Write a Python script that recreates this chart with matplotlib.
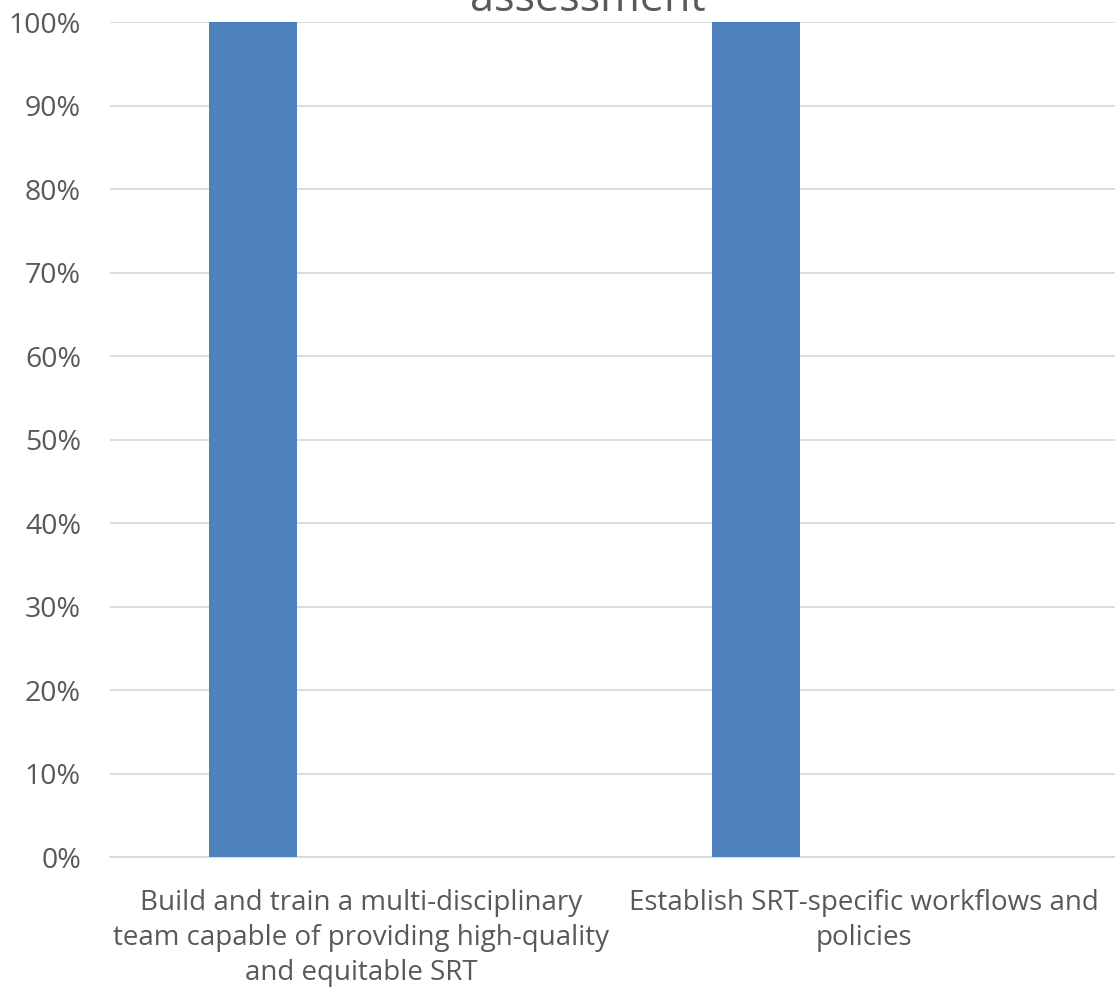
import matplotlib
matplotlib.use("Agg")
import matplotlib.pyplot as plt
from matplotlib.ticker import PercentFormatter

categories = ["Build and train a multi-disciplinary\nteam capable of providing high-quality\nand equitable SRT",
              "Establish SRT-specific workflows and\npolicies"]
values = [1.0, 1.0]
yticks = [0, 0.1, 0.2, 0.3, 0.4, 0.5, 0.6, 0.7, 0.8, 0.9, 1.0]

text_col = "#595959"
plt.rcParams['font.family'] = ['Open Sans', 'DejaVu Sans']

fig = plt.figure(figsize=(11.15, 9.91), dpi=100)
ax = fig.add_axes([0.0987, 0.1352, 0.9013, 0.8426])

x = list(range(len(categories)))
ax.bar([i - 0.215 for i in x], values, width=0.175, color="#4F81BD", zorder=3)

ax.set_xlim(-0.5, 1.5)
ax.set_ylim(0, 1.0)
ax.set_yticks(yticks)
ax.yaxis.set_major_formatter(PercentFormatter(1.0, decimals=0))
ax.set_xticks(x)
ax.set_xticklabels(categories, fontsize=20, color=text_col, linespacing=1.34)
ax.tick_params(axis='y', labelsize=20.5, labelcolor=text_col, length=0, pad=21)
ax.tick_params(axis='x', length=0, pad=23)
ax.grid(axis='y', color="#D9D9D9", linewidth=1.3, zorder=0)
for s in ["top", "right", "left"]:
    ax.spines[s].set_visible(False)
ax.spines["bottom"].set_color("#D9D9D9")
ax.spines["bottom"].set_linewidth(1.3)

# title is cut off at the top edge, as in the reference
fig.text(0.527, 0.989, "assessment", ha='center', va='baseline',
         fontsize=31, color=text_col)

fig.savefig("out.png", dpi=100)
